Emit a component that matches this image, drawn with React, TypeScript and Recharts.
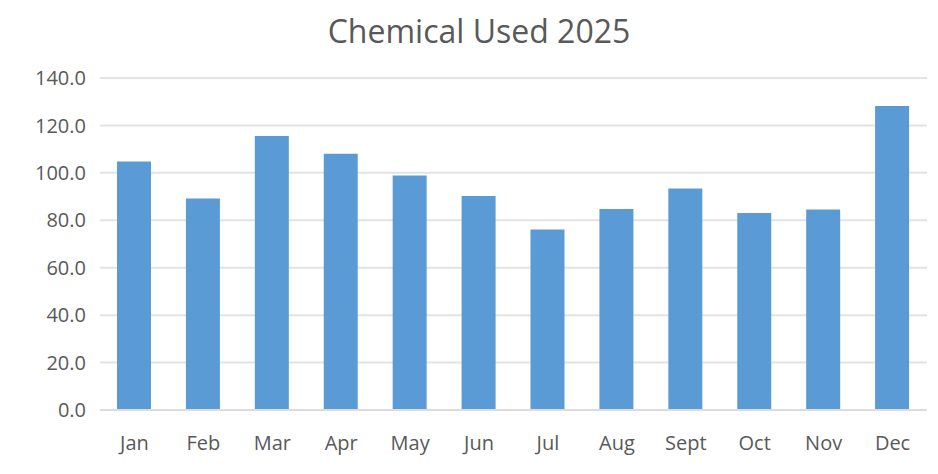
import { BarChart, Bar, XAxis, YAxis, CartesianGrid } from 'recharts';

// Monthly chemical usage, 2025
const months = ['Jan', 'Feb', 'Mar', 'Apr', 'May', 'Jun', 'Jul', 'Aug', 'Sept', 'Oct', 'Nov', 'Dec'];
const used = [104.8, 89.2, 115.5, 108.1, 98.9, 90.2, 76.1, 84.8, 93.4, 83.1, 84.5, 128.2];
const yTicks = [0, 20, 40, 60, 80, 100, 120, 140];

const chartData = months.map((m, i) => ({ month: m, used: used[i] }));

const FONT = '"Open Sans", "Noto Sans", sans-serif';
const TEXT = '#595959';

export default function App() {
  return (
    <div
      style={{
        position: 'relative',
        margin: -8,
        width: 938,
        height: 474,
        background: '#f7f6f2',
        overflow: 'hidden',
        fontFamily: FONT,
      }}
    >
      {/* chart card */}
      <div
        style={{
          position: 'absolute',
          left: 6,
          top: 6,
          width: 940,
          height: 480,
          background: '#ffffff',
          borderLeft: '1px solid #e7e7e7',
          borderTop: '1px solid #e7e7e7',
        }}
      />
      <div style={{ position: 'absolute', left: 0, top: 0 }}>
        <BarChart
          width={938}
          height={474}
          data={chartData}
          margin={{ top: 78, right: 11, bottom: 0, left: 0 }}
          barSize={34}
        >
          <text
            x={479}
            y={43}
            textAnchor="middle"
            fill={TEXT}
            style={{ fontFamily: FONT, fontSize: 32 }}
          >
            Chemical Used 2025
          </text>
          <CartesianGrid vertical={false} stroke="#e3e3e3" strokeWidth={2} />
          <XAxis
            dataKey="month"
            height={64}
            axisLine={{ stroke: '#dcdcdc', strokeWidth: 2 }}
            tickLine={false}
            tickSize={0}
            tickMargin={26}
            interval={0}
            tick={{ fill: TEXT, fontSize: 20, fontFamily: FONT }}
          />
          <YAxis
            width={100}
            domain={[0, 140]}
            ticks={yTicks}
            axisLine={false}
            tickLine={false}
            tickSize={0}
            tickMargin={14}
            tickFormatter={(v: number) => v.toFixed(1)}
            tick={{ fill: TEXT, fontSize: 20, fontFamily: FONT }}
          />
          <Bar dataKey="used" fill="#5b9bd5" isAnimationActive={false} />
        </BarChart>
      </div>
    </div>
  );
}
